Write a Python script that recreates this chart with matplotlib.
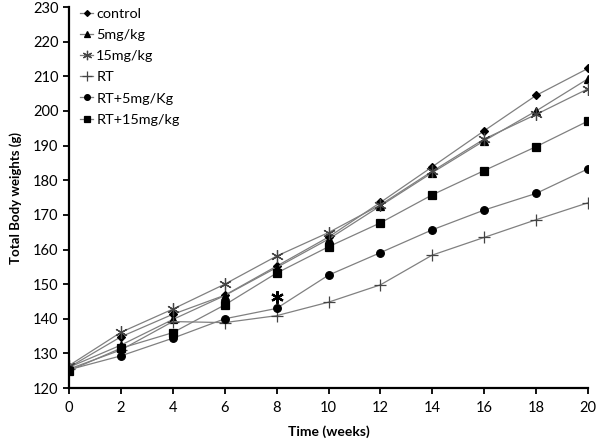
import matplotlib
matplotlib.use("Agg")
import matplotlib.pyplot as plt

weeks = [0, 2, 4, 6, 8, 10, 12, 14, 16, 18, 20]
control = [126, 134.8, 141.3, 146.8, 155.2, 163.6, 173.6, 183.9, 194.3, 204.5, 212.3]
mg5 = [126, 132.4, 139.8, 146.7, 154.8, 163.0, 172.6, 182.2, 191.4, 200.0, 209.3]
mg15 = [126.5, 136.1, 142.8, 150.0, 158.1, 164.9, 172.9, 182.6, 191.9, 199.0, 206.4]
rt = [125.5, 131.0, 139.2, 138.9, 140.9, 144.8, 149.8, 158.4, 163.5, 168.6, 173.5]
rt5 = [125.3, 129.3, 134.4, 140.0, 143.0, 152.6, 159.1, 165.7, 171.4, 176.2, 183.3]
rt15 = [125.0, 131.5, 136.0, 144.0, 153.2, 160.8, 167.7, 175.8, 182.8, 189.7, 197.1]
labels = ["control", "5mg/kg", "15mg/kg", "RT", "RT+5mg/Kg", "RT+15mg/kg"]
star_week, star_val = 8, 146.3

plt.rcParams['font.family'] = ['Lato', 'DejaVu Sans']
fig = plt.figure(figsize=(6.0, 4.43), dpi=100)
ax = fig.add_axes([0.115, 0.124, 0.865, 0.86])

series = [control, mg5, mg15, rt, rt5, rt15]
markers = ['D', '^', (6, 2, 0), '+', 'o', 's']
msizes = [4, 5.5, 9, 9, 5.5, 5.5]
for vals, lab, m, ms in zip(series, labels, markers, msizes):
    mec = '#444444' if m in ['+', (6, 2, 0)] else 'black'
    ax.plot(weeks, vals, color='#808080', lw=0.9, marker=m, markersize=ms,
            markerfacecolor='black', markeredgecolor=mec, markeredgewidth=0.9,
            label=lab)

ax.plot([star_week], [star_val], linestyle='none', marker=(6, 2, 0),
        markersize=9, markeredgewidth=1.6, color='black')

ax.set_xlim(0, 20)
ax.set_ylim(120, 230)
ax.set_xticks(range(0, 21, 2))
ax.set_yticks(range(120, 231, 10))
for s in ['top', 'right']:
    ax.spines[s].set_visible(False)
for s in ['left', 'bottom']:
    ax.spines[s].set_linewidth(1.6)
ax.tick_params(direction='out', length=4, width=1.3, labelsize=10.5)
ax.tick_params(axis='x', pad=5)
ax.set_xlabel('Time (weeks)', fontsize=10, fontweight='bold', labelpad=8)
ax.set_ylabel('Total Body weights (g)', fontsize=9.5, fontweight='bold', labelpad=8)

ax.legend(loc='upper left', bbox_to_anchor=(0.005, 1.02), frameon=False,
          fontsize=10.4, handlelength=0.9, handletextpad=0.2, labelspacing=0.62,
          borderaxespad=0.2, markerscale=0.75)

fig.savefig('out.png', dpi=100)
